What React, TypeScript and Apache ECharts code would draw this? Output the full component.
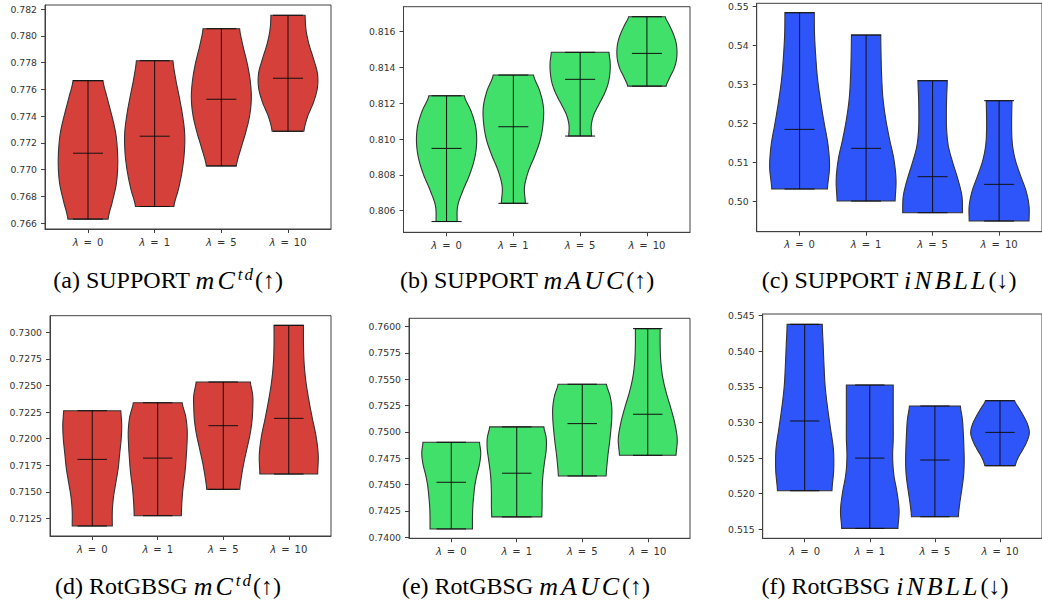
import React, { useEffect, useRef } from "react";
import * as echarts from "echarts";

// ---------- data ----------
const positions = [1, 2, 3, 4];
const lambdaValues = ["0", "1", "5", "10"];

// (a) SUPPORT mC^td
const aMin = [0.76631, 0.76725, 0.77028, 0.77287];
const aMax = [0.77665, 0.77814, 0.78053, 0.78153];
const aMed = [0.77123, 0.7725, 0.77526, 0.77683];
const aShape = [
  [0.67, 0.81, 0.94, 0.99, 0.98, 0.92, 0.79, 0.64, 0.5],
  [0.64, 0.8, 0.92, 0.99, 1.0, 0.93, 0.82, 0.7, 0.61],
  [0.5, 0.65, 0.82, 0.95, 1.0, 0.96, 0.86, 0.72, 0.61],
  [0.53, 0.65, 0.85, 0.98, 0.98, 0.85, 0.7, 0.6, 0.57],
];
const aTicks = [0.766, 0.768, 0.77, 0.772, 0.774, 0.776, 0.778, 0.78, 0.782];

// (b) SUPPORT mAUC
const bMin = [0.80539, 0.80641, 0.81017, 0.81296];
const bMax = [0.81242, 0.81358, 0.81485, 0.81684];
const bMed = [0.80948, 0.81069, 0.81334, 0.81479];
const bShape = [
  [0.35, 0.37, 0.55, 0.77, 0.93, 1.0, 0.97, 0.82, 0.59],
  [0.4, 0.37, 0.5, 0.72, 0.9, 0.99, 1.0, 0.88, 0.67],
  [0.38, 0.37, 0.45, 0.62, 0.8, 0.93, 0.99, 1.0, 0.96],
  [0.64, 0.76, 0.9, 0.98, 1.0, 0.97, 0.88, 0.75, 0.61],
];
const bTicks = [0.806, 0.808, 0.81, 0.812, 0.814, 0.816];

// (c) SUPPORT iNBLL
const cMin = [0.50324, 0.50017, 0.49719, 0.49506];
const cMax = [0.5483, 0.54259, 0.53092, 0.52581];
const cMed = [0.51848, 0.51363, 0.50639, 0.50443];
const cShape = [
  [0.93, 1.0, 0.95, 0.82, 0.7, 0.6, 0.54, 0.5, 0.49],
  [0.97, 1.0, 0.93, 0.78, 0.65, 0.56, 0.52, 0.5, 0.49],
  [1.0, 0.98, 0.85, 0.68, 0.53, 0.47, 0.46, 0.47, 0.49],
  [1.0, 1.0, 0.9, 0.72, 0.55, 0.45, 0.42, 0.42, 0.43],
];
const cTicks = [0.5, 0.51, 0.52, 0.53, 0.54, 0.55];

// (d) RotGBSG mC^td
const dMin = [0.71178, 0.71275, 0.71523, 0.71667];
const dMax = [0.72263, 0.72338, 0.72533, 0.73066];
const dMed = [0.71805, 0.71817, 0.72122, 0.72191];
const dShape = [
  [0.68, 0.68, 0.72, 0.8, 0.88, 0.93, 0.98, 1.0, 0.97],
  [0.8, 0.82, 0.86, 0.92, 0.96, 0.99, 1.0, 0.95, 0.83],
  [0.56, 0.62, 0.7, 0.8, 0.9, 0.97, 1.0, 1.0, 0.92],
  [0.98, 1.0, 0.93, 0.8, 0.68, 0.58, 0.52, 0.5, 0.5],
];
const dTicks = [0.7125, 0.715, 0.7175, 0.72, 0.7225, 0.725, 0.7275, 0.73];

// (e) RotGBSG mAUC
const eMin = [0.74079, 0.74193, 0.74582, 0.74778];
const eMax = [0.74902, 0.75048, 0.75453, 0.75981];
const eMed = [0.74522, 0.74608, 0.75079, 0.75168];
const eShape = [
  [0.72, 0.72, 0.73, 0.76, 0.8, 0.87, 0.96, 1.0, 0.96],
  [0.85, 0.86, 0.86, 0.87, 0.9, 0.95, 1.0, 1.0, 0.92],
  [0.81, 0.84, 0.88, 0.93, 0.97, 1.0, 1.0, 0.94, 0.82],
  [0.96, 1.0, 0.92, 0.78, 0.62, 0.5, 0.44, 0.42, 0.42],
];
const eTicks = [0.74, 0.7425, 0.745, 0.7475, 0.75, 0.7525, 0.755, 0.7575, 0.76];

// (f) RotGBSG iNBLL
const fMin = [0.52042, 0.51513, 0.51677, 0.52393];
const fMax = [0.54378, 0.53526, 0.53231, 0.53306];
const fMed = [0.53021, 0.525, 0.52473, 0.52861];
const fShape = [
  [0.93, 0.99, 0.98, 0.88, 0.78, 0.7, 0.66, 0.63, 0.6],
  [0.96, 1.0, 0.93, 0.82, 0.78, 0.8, 0.8, 0.8, 0.8],
  [0.8, 0.85, 0.92, 0.98, 1.0, 0.99, 0.97, 0.94, 0.87],
  [0.52, 0.62, 0.78, 0.92, 1.0, 0.95, 0.82, 0.66, 0.5],
];
const fTicks = [0.515, 0.52, 0.525, 0.53, 0.535, 0.54, 0.545];

// ---------- layout / style ----------
const RED = "#d6403a";
const GREEN = "#40e06a";
const BLUE = "#2d55fa";
const HALF = 0.45; // max half width of a violin (x units)
const CAP = 0.225; // half length of the min/max/median lines

const panels = [
  { mins: aMin, maxs: aMax, meds: aMed, shapes: aShape, ticks: aTicks, dec: 3, color: RED,
    grid: { left: 45, top: 5, width: 286, height: 224 }, ylim: [0.76557, 0.7823],
    cap: { x: 168, y: 280, pre: "(a) SUPPORT ", it: "mC", sup: "td", post: "(↑)" } },
  { mins: bMin, maxs: bMax, meds: bMed, shapes: bShape, ticks: bTicks, dec: 3, color: GREEN,
    grid: { left: 403.5, top: 6.7, width: 286.5, height: 225.6 }, ylim: [0.80479, 0.8174],
    cap: { x: 527, y: 280, pre: "(b) SUPPORT ", it: "mAUC", sup: "", post: "(↑)" } },
  { mins: cMin, maxs: cMax, meds: cMed, shapes: cShape, ticks: cTicks, dec: 2, color: BLUE,
    grid: { left: 756.7, top: 3.3, width: 294.7, height: 228.4 }, ylim: [0.49233, 0.5507],
    cap: { x: 889, y: 280, pre: "(c) SUPPORT ", it: "iNBLL", sup: "", post: "(↓)" } },
  { mins: dMin, maxs: dMax, meds: dMed, shapes: dShape, ticks: dTicks, dec: 4, color: RED,
    grid: { left: 50, top: 315.7, width: 281, height: 220.3 }, ylim: [0.71084, 0.73157],
    cap: { x: 168, y: 586, pre: "(d) RotGBSG ", it: "mC", sup: "td", post: "(↑)" } },
  { mins: eMin, maxs: eMax, meds: eMed, shapes: eShape, ticks: eTicks, dec: 4, color: GREEN,
    grid: { left: 409, top: 318.3, width: 281, height: 220 }, ylim: [0.7399, 0.76079],
    cap: { x: 526, y: 586, pre: "(e) RotGBSG ", it: "mAUC", sup: "", post: "(↑)" } },
  { mins: fMin, maxs: fMax, meds: fMed, shapes: fShape, ticks: fTicks, dec: 3, color: BLUE,
    grid: { left: 762.7, top: 314, width: 287.5, height: 224.3 }, ylim: [0.51374, 0.54523],
    cap: { x: 885, y: 586, pre: "(f) RotGBSG ", it: "iNBLL", sup: "", post: "(↓)" } },
];

function profileAt(p: number[], t: number): number {
  const n = p.length - 1;
  const f = t * n;
  let i = Math.floor(f);
  if (i >= n) i = n - 1;
  const u = f - i;
  const p0 = p[Math.max(i - 1, 0)];
  const p1 = p[i];
  const p2 = p[i + 1];
  const p3 = p[Math.min(i + 2, n)];
  const v =
    0.5 *
    (2 * p1 +
      (-p0 + p2) * u +
      (2 * p0 - 5 * p1 + 4 * p2 - p3) * u * u +
      (-p0 + 3 * p1 - 3 * p2 + p3) * u * u * u);
  return Math.max(0.05, Math.min(1.05, v));
}

export default function App() {
  const ref = useRef<HTMLDivElement>(null);
  useEffect(() => {
    if (!ref.current) return;
    const chart = echarts.init(ref.current, null, { renderer: "svg" });
    const AX = "#404040";
    const LBL = "#333333";
    const grids: any[] = [];
    const xAxes: any[] = [];
    const yAxes: any[] = [];
    const series: any[] = [];
    const graphics: any[] = [];

    panels.forEach((pn, k) => {
      grids.push({
        ...pn.grid,
        show: true,
        borderColor: AX,
        borderWidth: 1,
        containLabel: false,
      });
      xAxes.push({
        gridIndex: k,
        type: "value",
        min: 0.355,
        max: 4.645,
        splitLine: { show: false },
        axisLine: { show: true, lineStyle: { color: AX, width: 1 } },
        axisTick: { show: true, length: 4, customValues: positions, lineStyle: { color: AX } },
        axisLabel: {
          customValues: positions,
          margin: 8,
          fontSize: 10,
          fontFamily: "DejaVu Sans",
          color: LBL,
          formatter: (v: number) => {
            const idx = positions.indexOf(Math.round(v));
            return "{l|λ}\u2002=\u2002" + (idx >= 0 ? lambdaValues[idx] : "");
          },
          rich: {
            l: { fontStyle: "italic", fontSize: 10, fontFamily: "DejaVu Sans", color: LBL },
          },
        },
      });
      yAxes.push({
        gridIndex: k,
        type: "value",
        min: pn.ylim[0],
        max: pn.ylim[1],
        splitLine: { show: false },
        axisLine: { show: true, lineStyle: { color: AX, width: 1 } },
        axisTick: { show: true, length: 4, customValues: pn.ticks, lineStyle: { color: AX } },
        axisLabel: {
          customValues: pn.ticks,
          margin: 8,
          fontSize: 9.3,
          fontFamily: "DejaVu Sans",
          color: LBL,
          formatter: (v: number) => v.toFixed(pn.dec),
        },
      });
      const data = positions.map((p, i) => [p, pn.mins[i], pn.maxs[i], pn.meds[i]]);
      series.push({
        type: "custom",
        xAxisIndex: k,
        yAxisIndex: k,
        data,
        renderItem: (params: any, api: any) => {
          const i = params.dataIndex;
          const pos = api.value(0);
          const lo = api.value(1);
          const hi = api.value(2);
          const med = api.value(3);
          const prof = pn.shapes[i];
          const N = 80;
          const left: number[][] = [];
          const right: number[][] = [];
          for (let s = 0; s <= N; s++) {
            const t = s / N;
            const w = profileAt(prof, t) * HALF;
            const y = lo + t * (hi - lo);
            left.push(api.coord([pos - w, y]));
            right.push(api.coord([pos + w, y]));
          }
          const pts = left.concat(right.reverse());
          const line = (x1: number, y1: number, x2: number, y2: number) => {
            const a = api.coord([x1, y1]);
            const b = api.coord([x2, y2]);
            return {
              type: "line",
              shape: { x1: a[0], y1: a[1], x2: b[0], y2: b[1] },
              style: { stroke: "#111", lineWidth: 1 },
            };
          };
          return {
            type: "group",
            children: [
              {
                type: "polygon",
                shape: { points: pts },
                style: { fill: pn.color, stroke: "#333333", lineWidth: 1.1, opacity: 1 },
              },
              line(pos, lo, pos, hi),
              line(pos - CAP, lo, pos + CAP, lo),
              line(pos - CAP, hi, pos + CAP, hi),
              line(pos - CAP, med, pos + CAP, med),
            ],
          };
        },
      });
      const c = pn.cap;
      const mathPart = c.it.split("").map((ch) => "{m|" + ch + "}").join("");
      const supPart = c.sup.split("").map((ch) => "{s|" + ch + "}").join("");
      const text = c.pre + mathPart + supPart + c.post;
      graphics.push({
        type: "text",
        x: c.x,
        y: c.y,
        style: {
          text,
          align: "center",
          verticalAlign: "middle",
          fontSize: 24,
          fontFamily: "Liberation Serif",
          fill: "#000",
          lineHeight: 28,
          rich: {
            m: {
              fontSize: 26,
              fontStyle: "italic",
              fontFamily: "Liberation Serif",
              fill: "#000",
              lineHeight: 28,
              padding: [0, 3, 0, 0],
            },
            s: {
              fontSize: 17,
              fontStyle: "italic",
              fontFamily: "Liberation Serif",
              fill: "#000",
              lineHeight: 10,
              verticalAlign: "top",
              padding: [0, 2, 0, 0],
            },
          },
        },
      });
    });

    chart.setOption({
      animation: false,
      backgroundColor: "#ffffff",
      grid: grids,
      xAxis: xAxes,
      yAxis: yAxes,
      series,
      graphic: graphics,
    });
    return () => chart.dispose();
  }, []);
  return (
    <div
      ref={ref}
      style={{ position: "absolute", left: 0, top: 0, width: 1042, height: 607 }}
    />
  );
}
